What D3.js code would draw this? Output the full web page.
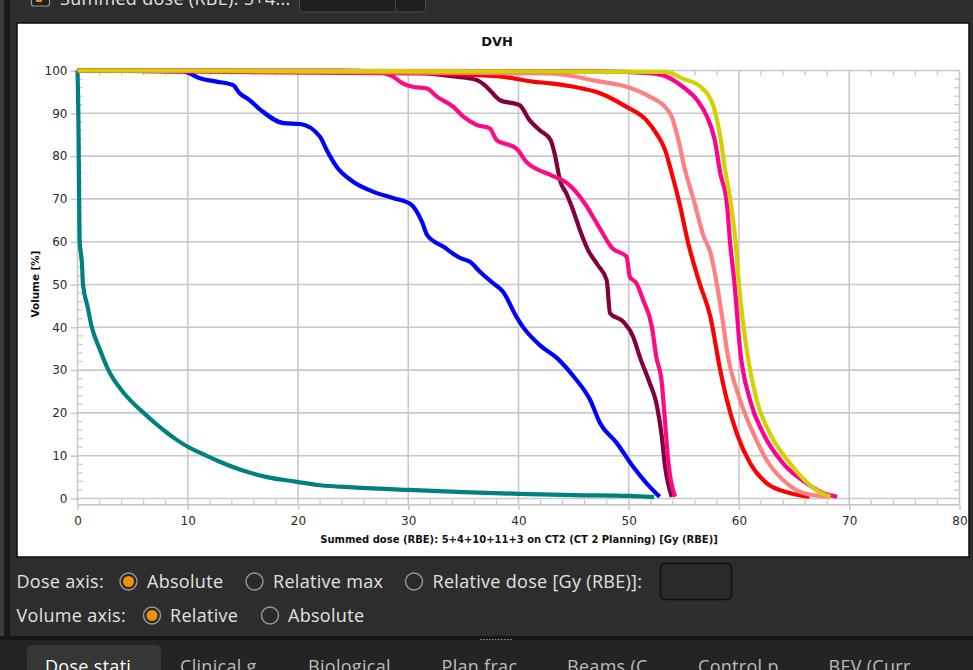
<!DOCTYPE html>
<html><head><meta charset="utf-8">
<script src="https://cdn.jsdelivr.net/npm/d3@7"></script>
<style>
html,body{margin:0;padding:0;background:#2d2d2d;overflow:hidden;}
svg{display:block;}
</style></head><body>
<svg id="c" width="973" height="670"></svg>
<script>
// ---- data ----
const xTicks = [0,10,20,30,40,50,60,70,80];
const yTicks = [0,10,20,30,40,50,60,70,80,90,100];
const seriesNames = ["teal","blue","maroon","pink","red","salmon","magenta","yellow"];
const seriesColors = ["#008080","#0000ff","#800040","#ff0a84","#ff0000","#ff8080","#ff0092","#d2d200"];

const teal = [[0,100],[0.1,85],[0.15,70],[0.2,60],[0.4,55],[0.5,50],[0.9,45],[1.3,40],[2.0,35],[2.8,30],[4.0,25.3],[5.0,22.4],[6.0,20],[7.0,17.7],[8.0,15.6],[9.0,13.7],[10.0,12.1],[11.1,10.7],[12.9,8.6],[15.3,6.3],[17.2,5.0],[19.9,3.9],[22,3.1],[25,2.6],[30,2.0],[35,1.5],[40,1.1],[45,0.8],[50,0.6],[52.3,0.3]];
const blue = [[0,100],[9.6,99.8],[11.1,98.2],[12.6,97.4],[14.1,96.6],[14.7,94.7],[15.6,93.1],[16.6,90.8],[18.7,87.7],[20.2,87.5],[22.0,84.5],[22.6,81.4],[23.5,77.5],[25.0,74.0],[26.8,71.7],[28.6,70.2],[30.2,68.8],[31.3,64.3],[31.7,61.6],[33.2,58.8],[34.7,56.2],[35.6,55.3],[36.5,53.0],[37.7,50.3],[38.6,48.3],[39.8,42.5],[40.4,40.1],[41.9,35.9],[43.5,32.8],[45.0,28.5],[46.5,23.0],[47.4,17.6],[48.9,13.0],[50.4,7.4],[51.6,3.6],[52.8,0.4]];
const maroon = [[0,100],[30.2,99.7],[34.1,98.6],[36.2,97.8],[37.1,96.2],[38.3,93.1],[40.1,91.9],[41.0,88.4],[41.9,86.1],[42.9,83.8],[43.3,80.3],[43.8,74],[44.3,71.5],[45.0,67],[45.6,62.5],[46.3,58.1],[47.2,54.5],[48.0,51],[48.3,43.3],[49.5,41.3],[50.4,37.8],[51.0,33.1],[51.9,27],[52.5,22.3],[53.0,14.4],[53.3,7.4],[53.9,0.4]];
const pink = [[0,100],[24,100],[27.1,99.7],[28.6,98.6],[29.5,97],[30.4,96.2],[31.7,95.8],[32.6,93.9],[34.1,91.5],[35.0,89.2],[36.2,87.3],[37.4,86.5],[38.0,83.8],[39.8,81.8],[40.7,78.7],[42.9,75.6],[44.5,73.5],[46.0,69],[47.4,63],[48.5,58.5],[49.8,56.5],[50.1,51.8],[50.7,50.3],[51.3,46.4],[52.1,40.1],[52.5,33.1],[53.0,27],[53.3,17.6],[53.6,8.3],[54.2,0.4]];
const red = [[0,100],[30.8,99.3],[38.3,98.6],[41.3,97.4],[42.9,97.0],[45,96.2],[47.4,94.7],[49.8,91.5],[51.6,88.4],[52.5,85.3],[53.3,81.4],[53.9,76],[54.6,69],[55.4,59.6],[56.4,50.5],[57.4,42.5],[58.3,30],[58.9,23],[59.8,15.2],[61.0,8.3],[62.5,3.6],[64.6,1.3],[66.4,0.4]];
const salmon = [[0,100],[42.9,99.3],[47.4,97.4],[49.8,96.2],[51.9,93.9],[53.4,91.2],[53.9,89.2],[54.5,83.8],[55.1,76.8],[55.9,69.7],[56.8,61.2],[57.4,57.5],[58.0,50],[58.5,42],[58.9,34.7],[60.1,23],[61.3,15.2],[62.5,9],[64.0,4.3],[65.8,1.3],[68.3,0.4]];
const magenta = [[0,100],[47.4,99.8],[51.9,99.4],[53.4,98.6],[54.9,96.2],[56.2,93.1],[57.1,89.2],[57.8,83.8],[58.3,76],[58.9,69],[59.2,59.6],[59.6,50],[60.1,34.7],[61.0,23],[62.2,15.2],[64.0,8.2],[66.1,3.6],[67.6,1.3],[68.9,0.4]];
const yellow = [[0,100],[53.4,99.7],[54.9,98.1],[56.5,96.2],[57.7,91.5],[58.3,84.5],[58.7,77.5],[59.3,68.2],[59.7,59.7],[60.0,50],[60.7,34.7],[61.6,23],[62.8,15.2],[64.6,8.3],[67.0,2.0],[68.3,0.4]];
const seriesData = [teal,blue,maroon,pink,red,salmon,magenta,yellow];

const chartTitle = "DVH";
const xLabel = "Summed dose (RBE): 5+4+10+11+3 on CT2 (CT 2 Planning) [Gy (RBE)]";
const yLabel = "Volume [%]";

// ---- drawing ----
const svg = d3.select("#c");
const W = 973, H = 670;
const uiFont = "'Open Sans','Noto Sans',sans-serif";
const chFont = "'DejaVu Sans',Verdana,sans-serif";

// window chrome
svg.append("rect").attr("x",0).attr("y",0).attr("width",W).attr("height",H).attr("fill","#2d2d2d");
svg.append("rect").attr("x",0).attr("y",0).attr("width",4).attr("height",638).attr("fill","#3a3a3a");
svg.append("rect").attr("x",4).attr("y",0).attr("width",6).attr("height",638).attr("fill","#1a1a1a");

const uiText = (tx,ty,s,c)=>svg.append("text").attr("x",tx).attr("y",ty).attr("font-family",uiFont)
  .attr("font-size",18).attr("letter-spacing",0.3).attr("fill",c||"#e2e2e2").text(s);

// top strip (partly cut off)
svg.append("rect").attr("x",31.5).attr("y",-8).attr("width",18).attr("height",14).attr("rx",2)
  .attr("fill","#1f1f1f").attr("stroke","#9a9a9a").attr("stroke-width",1.2);
svg.append("rect").attr("x",36).attr("y",-3).attr("width",6).attr("height",5).attr("fill","#e88a10");
uiText(60,5,"Summed dose (RBE): 5+4...");
svg.append("rect").attr("x",299.5).attr("y",-10).attr("width",126).attr("height",22).attr("rx",3)
  .attr("fill","#1f1f1f").attr("stroke","#4a4a4a");
svg.append("line").attr("x1",395.5).attr("x2",395.5).attr("y1",-10).attr("y2",11).attr("stroke","#444");

// chart panel
svg.append("rect").attr("x",17).attr("y",23).attr("width",952).attr("height",534)
  .attr("fill","#ffffff").attr("stroke","#0c0c0c").attr("stroke-width",1.5);

const x = d3.scaleLinear().domain([0,80]).range([77.5,959.5]);
const y = d3.scaleLinear().domain([0,100]).range([498.5,70.5]);
const yBase = y(-1.5);
const gridC = "#c8c8c8";

const g = svg.append("g");
g.selectAll(".gx").data(xTicks).enter().append("line")
  .attr("x1",d=>x(d)).attr("x2",d=>x(d)).attr("y1",y(100)).attr("y2",yBase)
  .attr("stroke",gridC).attr("stroke-width",1.6);
g.selectAll(".gy").data(yTicks).enter().append("line")
  .attr("x1",x(0)).attr("x2",x(80)).attr("y1",d=>y(d)).attr("y2",d=>y(d))
  .attr("stroke",gridC).attr("stroke-width",1.6);
g.append("line").attr("x1",x(0)).attr("x2",x(80)).attr("y1",yBase).attr("y2",yBase)
  .attr("stroke",gridC).attr("stroke-width",1.6);

const xMinor = d3.range(0,81,2).filter(v=>v%10!==0);
const yMinor = d3.range(0,101,2).filter(v=>v%10!==0);
g.selectAll(".mb").data(xMinor).enter().append("line")
  .attr("x1",d=>x(d)).attr("x2",d=>x(d)).attr("y1",yBase).attr("y2",yBase-5)
  .attr("stroke",gridC).attr("stroke-width",1.3);
g.selectAll(".mt").data(xMinor).enter().append("line")
  .attr("x1",d=>x(d)).attr("x2",d=>x(d)).attr("y1",y(100)).attr("y2",y(100)+5)
  .attr("stroke",gridC).attr("stroke-width",1.3);
g.selectAll(".ml").data(yMinor).enter().append("line")
  .attr("x1",x(0)).attr("x2",x(0)+5).attr("y1",d=>y(d)).attr("y2",d=>y(d))
  .attr("stroke",gridC).attr("stroke-width",1.3);
g.selectAll(".mr").data(yMinor).enter().append("line")
  .attr("x1",x(80)).attr("x2",x(80)-5).attr("y1",d=>y(d)).attr("y2",d=>y(d))
  .attr("stroke",gridC).attr("stroke-width",1.3);

const xAxis = d3.axisBottom(x).tickValues(xTicks).tickSize(5).tickPadding(7).tickFormat(d3.format("d"));
const gx = svg.append("g").attr("transform",`translate(0,${yBase})`).call(xAxis);
const yAxis = d3.axisLeft(y).tickValues(yTicks).tickSize(7).tickPadding(3).tickFormat(d3.format("d"));
const gy = svg.append("g").attr("transform",`translate(${x(0)},0)`).call(yAxis);
[gx,gy].forEach(a=>{
  a.select(".domain").remove();
  a.selectAll(".tick line").attr("stroke",gridC).attr("stroke-width",1.5);
  a.selectAll(".tick text").attr("font-family",chFont).attr("font-size",12).attr("fill","#2a2a2a");
});

// curves
const line = d3.line().x(d=>x(d[0])).y(d=>y(d[1])).curve(d3.curveMonotoneX);
svg.append("g").selectAll("path").data(seriesData).enter().append("path")
  .attr("d",line).attr("fill","none")
  .attr("stroke",(d,i)=>seriesColors[i]).attr("stroke-width",4.2)
  .attr("stroke-linejoin","round").attr("stroke-linecap","butt");

// titles
svg.append("text").attr("x",497).attr("y",46).attr("text-anchor","middle")
  .attr("font-family",chFont).attr("font-weight","bold").attr("font-size",13).attr("fill","#111").text(chartTitle);
const xl = svg.append("text").attr("x",519).attr("y",543).attr("text-anchor","middle")
  .attr("font-family",chFont).attr("font-weight","bold").attr("font-size",10).attr("fill","#111").text(xLabel);
xl.attr("font-size", 10*398/xl.node().getComputedTextLength());
const yl = svg.append("text").attr("transform","translate(39,284) rotate(-90)").attr("text-anchor","middle")
  .attr("font-family",chFont).attr("font-weight","bold").attr("font-size",10).attr("fill","#111").text(yLabel);
yl.attr("font-size", Math.min(11.5, 10*67/yl.node().getComputedTextLength()));

// bottom controls
const radio = (cx,cy,on)=>{
  svg.append("circle").attr("cx",cx).attr("cy",cy).attr("r",8.5).attr("fill","#2a2a2a")
    .attr("stroke","#9a9a9a").attr("stroke-width",1.4);
  if(on) svg.append("circle").attr("cx",cx).attr("cy",cy).attr("r",5.5).attr("fill","#f0900a");
};
uiText(16.5,588,"Dose axis:");
radio(128.5,581.5,true); uiText(147,588,"Absolute");
radio(254.5,581.5,false); uiText(273,588,"Relative max");
radio(414,581.5,false); uiText(432.5,588,"Relative dose [Gy (RBE)]:");
svg.append("rect").attr("x",660.5).attr("y",563.5).attr("width",71).attr("height",36).attr("rx",4)
  .attr("fill","#2a2a2a").attr("stroke","#101010").attr("stroke-width",1.5);
uiText(16.5,622,"Volume axis:");
radio(152,615.5,true); uiText(170,622,"Relative");
radio(270,615.5,false); uiText(288,622,"Absolute");

// tab strip
svg.append("rect").attr("x",0).attr("y",636).attr("width",W).attr("height",4).attr("fill","#161616");
svg.append("rect").attr("x",0).attr("y",640).attr("width",W).attr("height",30).attr("fill","#242424");
svg.append("line").attr("x1",480).attr("x2",512).attr("y1",639.5).attr("y2",639.5)
  .attr("stroke","#9a9a9a").attr("stroke-width",1).attr("stroke-dasharray","1.5,1.5");
svg.append("path").attr("d","M27,675 V651 Q27,645 33,645 H155 Q161,645 161,651 V675 Z").attr("fill","#363636");
const tabs = [["Dose stati",45,"#ffffff"],["Clinical g",180,"#bdbdbd"],["Biological",308,"#bdbdbd"],["Plan frac",441.5,"#bdbdbd"],["Beams (C",567,"#bdbdbd"],["Control p",698,"#bdbdbd"],["BEV (Curr",828.5,"#bdbdbd"]];
tabs.forEach(t=>uiText(t[1],673,t[0],t[2]));
</script>
</body></html>
